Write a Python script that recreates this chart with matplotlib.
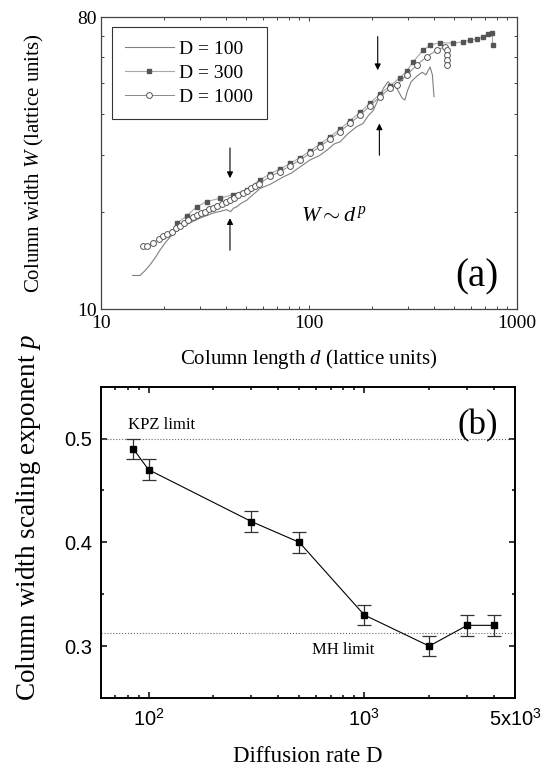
import matplotlib
matplotlib.use('Agg')
import matplotlib.pyplot as plt
from matplotlib.ticker import FixedLocator, NullFormatter, MultipleLocator

plt.rcParams['font.family'] = 'serif'
plt.rcParams['font.serif'] = ['Liberation Serif', 'DejaVu Serif']
plt.rcParams['mathtext.fontset'] = 'custom'
plt.rcParams['mathtext.rm'] = 'Liberation Serif'
plt.rcParams['mathtext.it'] = 'Liberation Serif:italic'

# ---- panel (a): W vs d ----
d100 = [14.2, 15.4, 16.2, 17.2, 18.2, 19.2, 20.3, 21.5, 24.0, 26.8, 29.9, 34.6, 38.0, 40.2,
        42.0, 43.3, 44.9, 47.0, 50.2, 53.0, 56.1, 58.1, 65, 75, 82, 90.5, 101, 112, 122,
        132, 141, 155, 169, 182, 192, 204, 215, 228, 240, 250, 259, 270, 280, 289, 298,
        310, 330, 350, 365, 382, 392, 399]
w100 = [12.7, 12.7, 13.1, 13.7, 14.4, 15.2, 16.0, 16.7, 17.8, 18.5, 19.1, 19.8, 20.1, 20.3,
        20.0, 20.5, 20.7, 21.2, 21.7, 22.4, 23.1, 23.6, 24.3, 25.6, 26.3, 27.5, 28.9, 29.8,
        31.0, 32.4, 32.9, 35.0, 36.6, 37.5, 39.5, 41.2, 44.5, 48.2, 50.5, 49.0, 49.3, 47.0,
        45.0, 44.3, 47.5, 50.5, 52.5, 54.0, 53.0, 56.1, 53.0, 45.4]

d300 = [23.1, 25.8, 28.8, 32.2, 37.3, 43.3, 50.2, 58.1, 65, 72.6, 81, 90.5, 101, 113, 126,
        141, 157, 176, 196, 219, 245, 274, 295, 317, 354, 382, 426, 494, 550, 594, 640,
        689, 729, 760, 765]
w300 = [18.4, 19.4, 20.7, 21.5, 22.0, 22.6, 23.4, 25.1, 26.2, 27.1, 28.2, 29.4, 30.8, 32.4,
        34.1, 36.0, 38.2, 40.6, 43.3, 46.2, 49.0, 52.0, 54.5, 58.2, 63.2, 65.5, 66.7, 66.4,
        67.1, 67.9, 68.3, 69.5, 70.9, 71.3, 65.5]

d1000 = [15.9, 16.7, 17.7, 19.0, 19.9, 20.8, 21.9, 22.9, 24.0, 25.1, 26.3, 27.6, 28.8, 30.1,
         31.6, 33.2, 34.7, 36.3, 38.0, 39.9, 41.7, 43.6, 45.7, 48.0, 50.2, 52.6, 55.2, 57.7,
         64.9, 72.6, 81.0, 90.5, 101.1, 113.0, 126.2, 141.0, 157.4, 175.9, 196.5, 219.4,
         245.1, 264, 295, 329, 368, 411, 451, 459, 459, 459, 459]
w1000 = [15.7, 15.7, 16.0, 16.5, 16.8, 17.1, 17.3, 17.8, 18.1, 18.4, 18.85, 19.2, 19.5, 19.8,
         20.0, 20.4, 20.6, 20.9, 21.2, 21.5, 21.8, 22.1, 22.5, 22.8, 23.2, 23.6, 24.0, 24.4,
         25.7, 26.6, 27.7, 28.9, 30.3, 31.8, 33.5, 35.4, 37.5, 39.8, 42.5, 45.4,
         48.1, 49.3, 52.9, 56.8, 60.3, 63.2, 64.8, 63.2, 61.1, 59.1, 56.9]

# arrows: (d, W tail, W tip)
arrows_a = [(41.7, 31.5, 25.4), (41.7, 15.2, 19.1), (214, 69.6, 54.8), (218, 29.9, 37.5)]

# ---- panel (b): exponent p vs D ----
D_rate = [85, 100, 300, 500, 1000, 2000, 3000, 4000]
p_exp = [0.49, 0.47, 0.42, 0.40, 0.33, 0.30, 0.32, 0.32]
p_err = [0.01, 0.01, 0.01, 0.01, 0.01, 0.01, 0.01, 0.01]
kpz_limit = 0.5
mh_limit = 0.313

fig = plt.figure(figsize=(5.48, 7.72), dpi=100)

# ---------------- (a) ----------------
ax = fig.add_axes([0.1843, 0.5997, 0.7591, 0.3782])
ax.plot(d100, w100, '-', color='#808080', lw=0.8, label='D = 100')
ax.plot(d300, w300, '-', color='#a8a8a8', lw=0.8, marker='s', ms=2.3,
        mfc='#555555', mec='#555555', label='D = 300')
ax.plot(d1000, w1000, '-', color='#8a8a8a', lw=0.7, marker='o', ms=4.2,
        mfc='white', mec='#555555', mew=0.7, label='D = 1000')
ax.set_xscale('log')
ax.set_yscale('log')
ax.set_xlim(10, 1000)
ax.set_ylim(10, 80)
ax.xaxis.set_major_locator(FixedLocator([10, 100, 1000]))
ax.xaxis.set_minor_locator(FixedLocator([20, 30, 40, 50, 60, 70, 80, 90,
                                         200, 300, 400, 500, 600, 700, 800, 900]))
ax.yaxis.set_major_locator(FixedLocator([10, 80]))
ax.yaxis.set_minor_locator(FixedLocator([20, 30, 40, 50, 60, 70]))
ax.set_xticklabels(['10', '100', '1000'])
ax.set_yticklabels(['10', '80'])
ax.xaxis.set_minor_formatter(NullFormatter())
ax.yaxis.set_minor_formatter(NullFormatter())
ax.tick_params(which='both', direction='in', top=True, right=True, color='#444444',
               width=0.7, labelsize=14)
ax.tick_params(axis='x', which='both', pad=4.5)
ax.tick_params(axis='y', which='both', pad=3)
ax.tick_params(which='major', length=3)
ax.tick_params(which='minor', length=2.5)
for s in ax.spines.values():
    s.set_color('#444444')
    s.set_linewidth(0.9)

ax.set_xlabel('Column length $d$ (lattice units)', fontsize=15, va='center')
ax.set_ylabel('Column width $W$ (lattice units)', fontsize=15, va='center')
ax.xaxis.set_label_coords(0.5, -0.1695)
ax.yaxis.set_label_coords(-0.159, 0.5)

for xa, w0, w1 in arrows_a:
    ax.annotate('', xy=(xa, w1), xytext=(xa, w0),
                arrowprops=dict(arrowstyle='-|>', color='black', lw=0.8,
                                mutation_scale=9, shrinkA=0, shrinkB=0))

ax.text(92, 18.7, r'$W \sim d^{\,p}$', fontsize=16, va='baseline')
ax.text(0.955, 0.11, '(a)', transform=ax.transAxes, ha='right', va='center', fontsize=28)

leg = ax.legend(loc='upper left', bbox_to_anchor=(0.026, 0.966), borderaxespad=0,
                fancybox=False, framealpha=1, edgecolor='#333333', fontsize=14,
                handlelength=2.5, handletextpad=0.3, labelspacing=0.33,
                borderpad=0.68, numpoints=1)
leg.get_frame().set_linewidth(0.8)

# ---------------- (b) ----------------
bx = fig.add_axes([0.1838, 0.0959, 0.7560, 0.4032])
bx.axhline(kpz_limit, ls=':', color='#666666', lw=0.8)
bx.axhline(mh_limit, ls=':', color='#666666', lw=0.8)
bx.errorbar(D_rate, p_exp, yerr=p_err, fmt='s-', color='black', ms=4.5, lw=0.8,
            ecolor='#333333', elinewidth=0.9, capsize=5, capthick=0.9)
bx.set_xscale('log')
bx.set_xlim(60, 5000)
bx.set_ylim(0.25, 0.55)
bx.xaxis.set_major_locator(FixedLocator([100, 1000, 5000]))
bx.xaxis.set_minor_locator(FixedLocator([70, 80, 90, 200, 300, 400, 500, 600, 700, 800,
                                         900, 2000, 3000, 4000]))
bx.xaxis.set_minor_formatter(NullFormatter())
bx.set_xticklabels([r'$\mathregular{10^2}$', r'$\mathregular{10^3}$',
                    r'$\mathregular{5x10^3}$'], fontfamily='Liberation Sans')
bx.yaxis.set_major_locator(FixedLocator([0.3, 0.4, 0.5]))
bx.yaxis.set_minor_locator(MultipleLocator(0.05))
bx.set_yticklabels(['0.3', '0.4', '0.5'], fontfamily='Liberation Sans')
bx.tick_params(which='both', direction='in', top=True, right=True, width=1.1,
               labelsize=14.5)
bx.tick_params(axis='x', which='both', pad=7)
bx.tick_params(axis='y', which='both', pad=6)
bx.tick_params(which='major', length=4.5)
bx.tick_params(which='minor', length=2.5)
for s in bx.spines.values():
    s.set_linewidth(1.4)

bx.set_xlabel('Diffusion rate D', fontsize=16.5, va='center')
bx.set_ylabel('Column width scaling exponent $p$', fontsize=19.5, va='center')
bx.xaxis.set_label_coords(0.5, -0.1895)
bx.yaxis.set_label_coords(-0.175, 0.58)

bx.text(80, 0.509, 'KPZ limit', fontsize=12, va='baseline')
bx.text(575, 0.292, 'MH limit', fontsize=12, va='baseline')
bx.text(0.958, 0.874, '(b)', transform=bx.transAxes, ha='right', va='center', fontsize=25)

fig.savefig('out.png', dpi=100)
